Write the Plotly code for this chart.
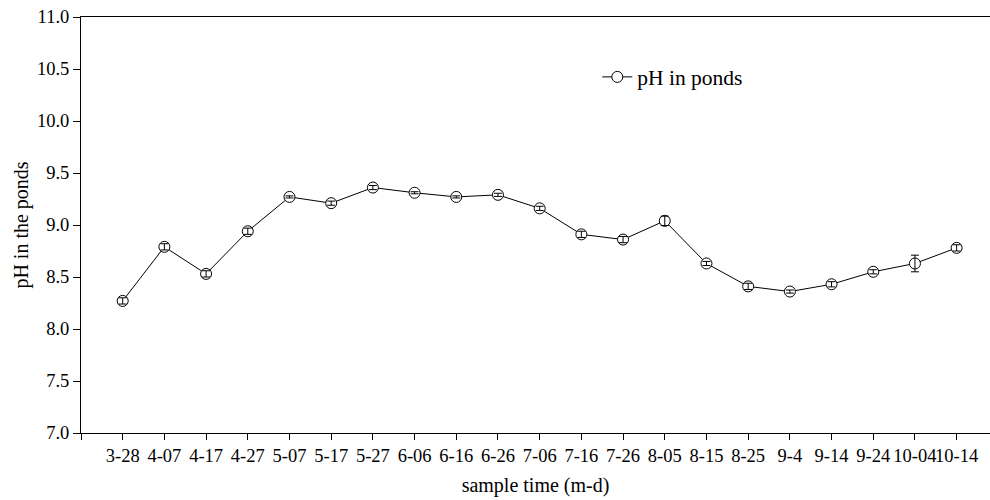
import plotly.graph_objects as go

dates = ["3-28", "4-07", "4-17", "4-27", "5-07", "5-17", "5-27", "6-06", "6-16", "6-26",
         "7-06", "7-16", "7-26", "8-05", "8-15", "8-25", "9-4", "9-14", "9-24", "10-04", "10-14"]
ph_values = [8.27, 8.79, 8.53, 8.94, 9.27, 9.21, 9.36, 9.31, 9.27, 9.29,
             9.16, 8.91, 8.86, 9.04, 8.63, 8.41, 8.36, 8.43, 8.55, 8.63, 8.78]
ph_errors = [0.03, 0.03, 0.03, 0.03, 0.01, 0.02, 0.02, 0.01, 0.01, 0.015,
             0.02, 0.03, 0.03, 0.045, 0.02, 0.03, 0.015, 0.025, 0.02, 0.08, 0.03]
y_ticks = [7.0, 7.5, 8.0, 8.5, 9.0, 9.5, 10.0, 10.5, 11.0]

idx = list(range(len(dates)))
font = "Liberation Serif, Times New Roman, serif"

fig = go.Figure()
fig.add_trace(go.Scatter(
    x=idx, y=ph_values, mode="lines+markers", name="pH in ponds",
    line=dict(color="black", width=1),
    marker=dict(symbol="circle", size=11, color="white", line=dict(color="black", width=1)),
))
fig.add_trace(go.Scatter(
    x=idx, y=ph_values, mode="markers", showlegend=False, hoverinfo="skip",
    marker=dict(size=1, color="rgba(0,0,0,0)"),
    error_y=dict(type="data", array=ph_errors, visible=True, color="black", thickness=1, width=4),
))

fig.update_layout(
    width=990, height=500,
    margin=dict(l=81, r=0, t=17, b=67, autoexpand=False),
    paper_bgcolor="white", plot_bgcolor="white",
    font=dict(family=font, color="black", size=18),
    legend=dict(x=0.568, y=0.856, xanchor="left", yanchor="middle",
                font=dict(size=21.5, family=font), bgcolor="rgba(0,0,0,0)"),
    xaxis=dict(
        range=[-1, 20.8], tickmode="array",
        tickvals=[-1] + idx, ticktext=[""] + dates,
        tickangle=0, automargin=False,
        ticks="outside", ticklen=6, tickwidth=1, tickcolor="black",
        showline=True, linecolor="black", linewidth=1, mirror=True,
        showgrid=False, zeroline=False,
        tickfont=dict(size=18.5),
        title=dict(text="sample time (m-d)", font=dict(size=20), standoff=12),
    ),
    yaxis=dict(
        range=[7.0, 11.0], tickmode="array", tickvals=y_ticks,
        ticktext=[f"{v:.1f}" for v in y_ticks],
        automargin=False,
        ticks="outside", ticklen=7, tickwidth=1, tickcolor="black",
        showline=True, linecolor="black", linewidth=1,
        showgrid=False, zeroline=False,
        tickfont=dict(size=18.5),
        title=dict(text="pH in the ponds", font=dict(size=20), standoff=2),
    ),
)

fig.write_html("out.html")
